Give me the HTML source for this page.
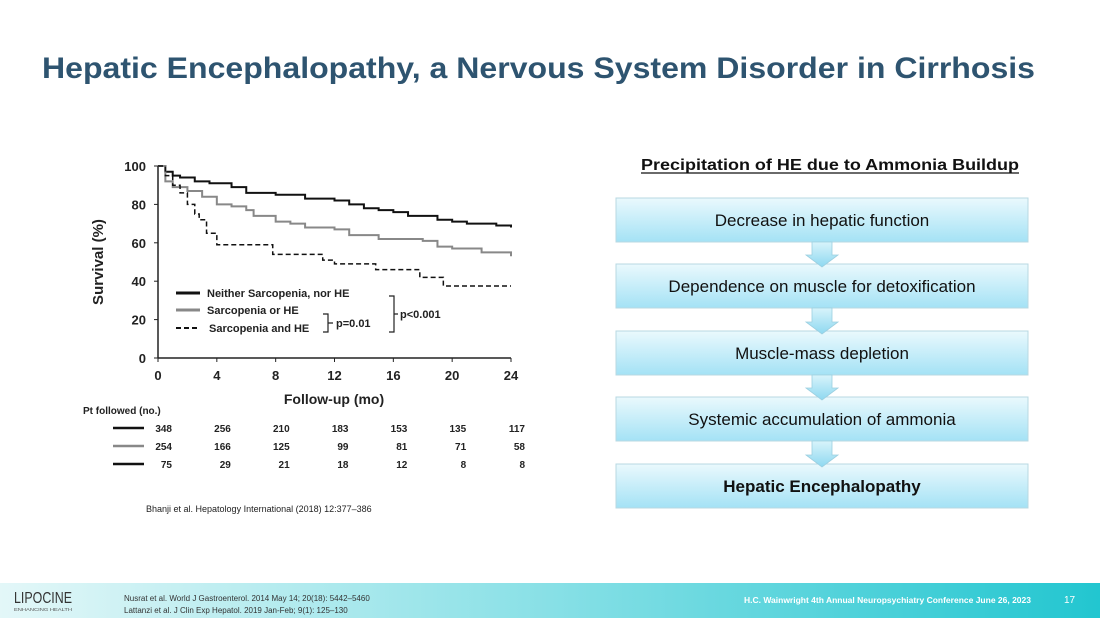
<!DOCTYPE html>
<html><head><meta charset="utf-8"><style>
html,body{margin:0;padding:0;background:#fff}
svg{display:block;font-family:"Liberation Sans",Arial,sans-serif}
</style></head><body>
<svg width="1100" height="618" viewBox="0 0 1100 618">
<defs>
<linearGradient id="boxg" x1="0" y1="0" x2="0" y2="1"><stop offset="0" stop-color="#eaf9fd"/><stop offset="1" stop-color="#a4e2f5"/></linearGradient>
<linearGradient id="arrg" x1="0" y1="0" x2="0" y2="1"><stop offset="0" stop-color="#d8f4fb"/><stop offset="1" stop-color="#8ed8f0"/></linearGradient>
<linearGradient id="footg" x1="0" y1="0" x2="1" y2="0"><stop offset="0" stop-color="#e3f7f8"/><stop offset="0.5" stop-color="#88e0e6"/><stop offset="1" stop-color="#22c6d0"/></linearGradient>
</defs>
<text x="42" y="78" font-size="30" font-weight="bold" fill="#2e5470" textLength="993" lengthAdjust="spacingAndGlyphs">Hepatic Encephalopathy, a Nervous System Disorder in Cirrhosis</text>

<g id="chart"></g>

<text x="146" y="512" font-size="9" fill="#222">Bhanji et al. Hepatology International (2018) 12:377–386</text>

<text x="830" y="170" font-size="16" font-weight="bold" fill="#111" text-anchor="middle" textLength="378" lengthAdjust="spacingAndGlyphs">Precipitation of HE due to Ammonia Buildup</text>
<line x1="641" y1="173" x2="1019" y2="173" stroke="#111" stroke-width="1.2"/>
<g id="flow"></g>

<rect x="0" y="583" width="1100" height="35" fill="url(#footg)"/>
<text x="14" y="603" font-size="16" fill="#333" textLength="58" lengthAdjust="spacingAndGlyphs">LIPOCINE</text>
<text x="14" y="611" font-size="4.5" fill="#555" textLength="58" lengthAdjust="spacingAndGlyphs">ENHANCING HEALTH</text>
<text x="124" y="601" font-size="8" fill="#333">Nusrat et al. World J Gastroenterol. 2014 May 14; 20(18): 5442–5460</text>
<text x="124" y="613" font-size="8" fill="#333">Lattanzi et al. J Clin Exp Hepatol. 2019 Jan-Feb; 9(1): 125–130</text>
<text x="1031" y="603" font-size="8.5" fill="#fff" text-anchor="end" font-weight="bold">H.C. Wainwright 4th Annual Neuropsychiatry Conference June 26, 2023</text>
<text x="1064" y="603" font-size="10" fill="#fff">17</text>
</svg>
<script>
const months=[0,0.5,1,1.5,2.5,3.5,5,6,8,10,12,13,14,15,16,17,19,20,21,23,24];
const neither=[100,97,95,94,92,91,89,86,85,83,82,80,78,77,76,74,72,71,70,69,68];
const monthsB=[0,0.5,1,2,3,4,5,6,6.5,8,9,10,12,13,15,18,19,20,22,24];
const either=[100,92,89,87,84,80,79,77,74,71,70,68,67,64,62,61,58,57,55,53];
const monthsC=[0,0.5,1,1.5,2,2.5,2.8,3.3,4,7.8,11.2,12,14.8,17.8,19.4,24];
const both=[100,95,90,86,80,75,72,65,59,54,51,49,46,42,37.5,37.5];
const xTicks=[0,4,8,12,16,20,24];
const yTicks=[0,20,40,60,80,100];
const atRisk=[[348,256,210,183,153,135,117],[254,166,125,99,81,71,58],[75,29,21,18,12,8,8]];
const steps=["Decrease in hepatic function","Dependence on muscle for detoxification","Muscle-mass depletion","Systemic accumulation of ammonia","Hepatic Encephalopathy"];

const NS="http://www.w3.org/2000/svg";
const X=m=>158+m*(511-158)/24, Y=v=>358-v*(358-166)/100;
function mk(p,t,a,txt){const e=document.createElementNS(NS,t);for(const k in a)e.setAttribute(k,a[k]);if(txt!=null)e.textContent=txt;p.appendChild(e);return e;}
const g=document.getElementById('chart');
let e;
e=mk(g,'line',{x1:158,y1:166,x2:158,y2:358,stroke:'#222','stroke-width':1.5});

e=mk(g,'line',{x1:158,y1:358,x2:511,y2:358,stroke:'#222','stroke-width':1.5});

yTicks.forEach(v=>{mk(g,'line',{x1:154,y1:Y(v),x2:158,y2:Y(v),stroke:'#222'});
e=mk(g,'text',{x:146,y:Y(v)+5,'font-size':13,'font-weight':'bold','text-anchor':'end',fill:'#222'},v);
});
xTicks.forEach(v=>{mk(g,'line',{x1:X(v),y1:358,x2:X(v),y2:362,stroke:'#222'});
e=mk(g,'text',{x:X(v),y:380,'font-size':13,'font-weight':'bold','text-anchor':'middle',fill:'#222'},v);
});
e=mk(g,'text',{x:0,y:0,'font-size':15,'font-weight':'bold',fill:'#222','text-anchor':'middle',transform:'translate(103,262) rotate(-90)'},'Survival (%)');

e=mk(g,'text',{x:334,y:404,'font-size':14,'font-weight':'bold',fill:'#222','text-anchor':'middle'},'Follow-up (mo)');

function stepPath(xs,ys){let d='M'+X(xs[0])+','+Y(ys[0]);for(let i=1;i<xs.length;i++){d+=' H'+X(xs[i])+' V'+Y(ys[i]);}return d;}
e=mk(g,'path',{d:stepPath(months,neither),fill:'none',stroke:'#111','stroke-width':2});

e=mk(g,'path',{d:stepPath(monthsB,either),fill:'none',stroke:'#888','stroke-width':2});

e=mk(g,'path',{d:stepPath(monthsC,both),fill:'none',stroke:'#111','stroke-width':1.5,'stroke-dasharray':'5,3'});

const leg=[['Neither Sarcopenia, nor HE','#111','',297],['Sarcopenia or HE','#888','',314],['Sarcopenia and HE','#111','5,3',332]];
leg.forEach((l,i)=>{mk(g,'line',{x1:176,y1:l[3]-4,x2:200,y2:l[3]-4,stroke:l[1],'stroke-width':i==2?2:3,'stroke-dasharray':l[2]});
e=mk(g,'text',{x:i==2?209:207,y:l[3],'font-size':11,'font-weight':'bold',fill:'#222'},l[0]);
});
mk(g,'path',{d:'M323,314 h5 v18 h-5 M328,323 h5',fill:'none',stroke:'#222','stroke-width':1.2});
e=mk(g,'text',{x:336,y:327,'font-size':11,'font-weight':'bold',fill:'#222'},'p=0.01');
mk(g,'path',{d:'M389,296 h5 v36 h-5 M394,314 h4',fill:'none',stroke:'#222','stroke-width':1.2});
e=mk(g,'text',{x:400,y:318,'font-size':11,'font-weight':'bold',fill:'#222'},'p<0.001');
e=mk(g,'text',{x:83,y:414,'font-size':10,'font-weight':'bold',fill:'#222'},'Pt followed (no.)');
const rc=['#111','#888','#111'];
atRisk.forEach((row,r)=>{const y=432+r*18;
mk(g,'line',{x1:113,y1:y-4,x2:144,y2:y-4,stroke:rc[r],'stroke-width':2.5});
row.forEach((v,c)=>{e=mk(g,'text',{x:X(xTicks[c])+14,y:y,'font-size':10,'font-weight':'bold',fill:'#222','text-anchor':'end'},v);
});});
const f=document.getElementById('flow');
const tops=[198,264,331,397,464];
steps.forEach((s,i)=>{const t=tops[i];
e=mk(f,'rect',{x:616,y:t,width:412,height:44,fill:'url(#boxg)',stroke:'#b8d8e2','stroke-width':1});

e=mk(f,'text',{x:822,y:t+28,'font-size':17,'text-anchor':'middle',fill:'#111','font-weight':i==4?'bold':'normal'},s);
});
steps.forEach((s,i)=>{if(i<steps.length-1){const t=tops[i];const h=tops[i+1]-t-44;
e=mk(f,'path',{d:`M812,${t+44} h20 v${h-9} h6 l-16,12 l-16,-12 h6 z`,fill:'url(#arrg)',stroke:'#9ccfe0','stroke-width':0.8});
}});
</script>
</body></html>
